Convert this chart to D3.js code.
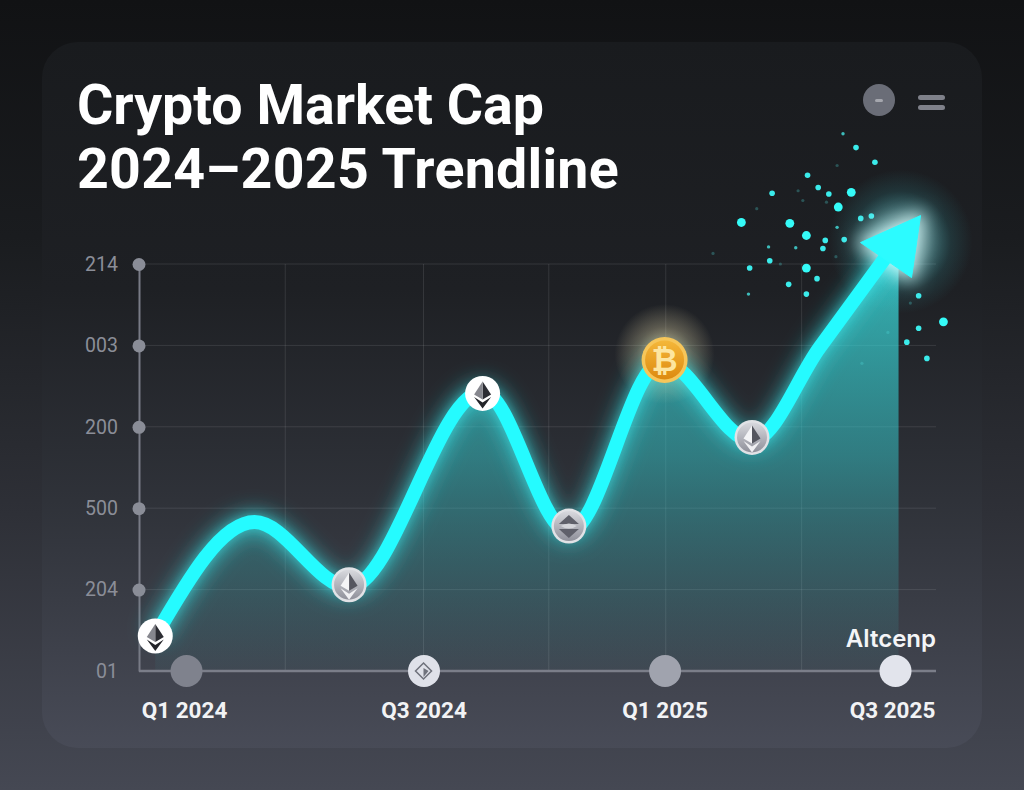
<!DOCTYPE html>
<html>
<head>
<meta charset="utf-8">
<script src="https://cdn.jsdelivr.net/npm/d3@7"></script>
<style>
html, body { margin: 0; padding: 0; background: #141517; overflow: hidden; }
</style>
</head>
<body>
<svg id="chart" width="1024" height="790"></svg>
<script>
// values: x in quarters after Q1 2024, y in axis steps
var yTickLabels = ["01", "204", "500", "200", "003", "214"];
var yTickValues = [0, 1, 2, 3, 4, 5];
var xTickLabels = ["Q1 2024", "Q3 2024", "Q1 2025", "Q3 2025"];
var xTickValues = [0, 2.01, 4.05, 6];
var xGridValues = [0.84, 2.01, 3.07, 4.06, 5.21];

var lineQ = [-0.26, 0.58, 1.38, 2.51, 3.24, 4.03, 4.79, 5.36, 6.03];
var lineV = [0.43, 1.83, 1.03, 3.43, 1.71, 3.80, 2.83, 3.97, 5.30];

var markerQ = [-0.26, 1.38, 2.51, 3.24, 4.05, 4.79];
var markerV = [0.43, 1.06, 3.41, 1.78, 3.82, 2.87];
var markerKind = ["light", "grey", "light", "ring", "btc", "grey"];

var sparkBigQ = [5.63, 5.52, 4.70, 5.11, 5.25, 5.25, 6.41];
var sparkBigV = [5.88, 5.70, 5.51, 5.50, 5.35, 4.95, 4.29];
var sparkMidQ = [5.67, 5.83, 5.26, 5.35, 4.96, 5.44, 5.71, 5.80, 5.41, 5.57, 5.39, 4.94, 4.77, 5.34, 5.10, 5.25, 6.20, 6.20, 6.10, 6.27];
var sparkMidV = [6.43, 6.25, 6.09, 5.94, 5.87, 5.86, 5.56, 5.59, 5.29, 5.30, 5.19, 5.04, 4.95, 4.82, 4.75, 4.63, 4.61, 4.21, 4.04, 3.84];
var sparkSmallQ = [5.56, 5.16, 4.93, 4.76, 5.51];
var sparkSmallV = [6.60, 5.20, 5.21, 4.63, 5.45];
var sparkFaintQ = [5.51, 5.18, 5.22, 5.42, 5.50, 4.46, 5.03, 4.83, 5.94, 5.72, 6.13];
var sparkFaintV = [6.21, 5.90, 5.78, 5.76, 5.09, 5.13, 5.00, 5.68, 4.16, 3.78, 4.52];

var x = d3.scaleLinear().domain([0, 6]).range([186, 895]);
var y = d3.scaleLinear().domain([0, 5]).range([671, 264]);

var svg = d3.select("#chart").style("font-family", "Roboto, sans-serif");
var defs = svg.append("defs");

function gradient(id, x2, y2, stops) {
    var g = defs.append("linearGradient").attr("id", id)
        .attr("x1", 0).attr("y1", 0).attr("x2", x2).attr("y2", y2);
    stops.forEach(function(s) {
        g.append("stop").attr("offset", s[0]).attr("stop-color", s[1]).attr("stop-opacity", s[2]);
    });
}
function radial(id, stops) {
    var g = defs.append("radialGradient").attr("id", id);
    stops.forEach(function(s) {
        g.append("stop").attr("offset", s[0]).attr("stop-color", s[1]).attr("stop-opacity", s[2]);
    });
}
function blur(id, dev) {
    defs.append("filter").attr("id", id)
        .attr("filterUnits", "userSpaceOnUse")
        .attr("x", -1024).attr("y", -790).attr("width", 2048).attr("height", 1580)
        .append("feGaussianBlur").attr("stdDeviation", dev);
}

gradient("bgGrad", 0, 1, [[0, "#111214", 1], [0.3, "#1a1c1f", 1], [0.65, "#2e3037", 1], [1, "#454853", 1]]);
gradient("cardGrad", 0, 1, [[0, "#191b1e", 1], [0.35, "#1e2024", 1], [0.65, "#2f3239", 1], [1, "#484b57", 1]]);
gradient("areaGrad", 0, 1, [[0, "#3ff0f0", 0.75], [0.5, "#36d0d4", 0.48], [1, "#36b0b4", 0.05]]);
gradient("silver", 0, 1, [[0, "#d8d9de", 1], [1, "#8f909a", 1]]);
gradient("gold", 0, 1, [[0, "#f4b73a", 1], [1, "#dd8a10", 1]]);
radial("arrowGlow", [[0, "#e8ffff", 0.7], [0.4, "#8ff4f8", 0.4], [0.7, "#3fd8e0", 0.12], [1, "#3fd8e0", 0]]);
radial("btcGlow", [[0, "#ffeeb8", 0.8], [0.55, "#e8dcae", 0.3], [1, "#e8dcae", 0]]);
blur("glowWide", 10);
blur("glowTight", 4);
blur("arrowBlur", 9);
blur("sparkBlur", 0.7);

svg.append("rect").attr("width", 1024).attr("height", 790).attr("fill", "url(#bgGrad)");
svg.append("rect").attr("x", 42).attr("y", 42).attr("width", 940).attr("height", 706).attr("rx", 36)
    .attr("fill", "url(#cardGrad)");

// title and top right buttons
var title = svg.append("g").attr("fill", "#ffffff").attr("font-weight", 700).attr("font-size", 55.5);
title.append("text").attr("x", 77).attr("y", 124).text("Crypto Market Cap");
title.append("text").attr("x", 77).attr("y", 188).attr("letter-spacing", 0.25).text("2024–2025 Trendline");

svg.append("circle").attr("cx", 879).attr("cy", 100).attr("r", 16).attr("fill", "#6a6d77");
svg.append("rect").attr("x", 875).attr("y", 99).attr("width", 8).attr("height", 3).attr("rx", 1.5).attr("fill", "#a5a7ae");
[95, 105].forEach(function(t) {
    svg.append("rect").attr("x", 918).attr("y", t).attr("width", 27).attr("height", 5).attr("rx", 2.5).attr("fill", "#7f818a");
});

// grid
var grid = svg.append("g").attr("stroke", "#ffffff").attr("stroke-opacity", 0.1).attr("stroke-width", 1);
grid.selectAll("line.h").data(yTickValues.slice(1)).enter().append("line").attr("class", "h")
    .attr("x1", 139).attr("x2", 936)
    .attr("y1", function(d) {return y(d);})
    .attr("y2", function(d) {return y(d);});
grid.selectAll("line.v").data(xGridValues).enter().append("line").attr("class", "v")
    .attr("x1", function(d) {return x(d);})
    .attr("x2", function(d) {return x(d);})
    .attr("y1", y(5)).attr("y2", y(0));

// area under the trend
var points = lineQ.map(function(q, i) {return {q: q, v: lineV[i]};});
var area = d3.area().curve(d3.curveMonotoneX)
    .x(function(d) {return x(d.q);})
    .y0(y(0))
    .y1(function(d) {return y(d.v);});
var line = d3.line().curve(d3.curveMonotoneX)
    .x(function(d) {return x(d.q);})
    .y(function(d) {return y(d.v);});

svg.append("path").datum(points).attr("d", area).attr("fill", "url(#areaGrad)");

// axes
var yAxis = d3.axisLeft(y).tickValues(yTickValues)
    .tickFormat(function(d, i) {return yTickLabels[i];})
    .tickSize(0).tickPadding(21);
var yG = svg.append("g").attr("transform", "translate(139,0)").call(yAxis);
yG.select(".domain").attr("stroke", "#787b86").attr("stroke-width", 2);
yG.selectAll("text").attr("fill", "#8b8e98").style("font-size", "19.5px").style("font-family", "Roboto, sans-serif");
yG.selectAll(".tick").filter(function(d) {return d > 0;}).append("circle").attr("r", 6.5).attr("fill", "#8a8d97");

var xAxis = d3.axisBottom(x).tickValues(xTickValues)
    .tickFormat(function(d, i) {return xTickLabels[i];})
    .tickSize(0).tickPadding(31);
var xG = svg.append("g").attr("transform", "translate(0,671)").call(xAxis);
xG.select(".domain").remove();
xG.insert("line", ":first-child").attr("x1", 139).attr("x2", 936).attr("stroke", "#7b7e89").attr("stroke-width", 2.5);
var xDotColors = ["#7f828d", "#dfe1e9", "#a0a3ae", "#e2e4ec"];
var xLabelShift = [-2, 0, 0, -3];
xG.selectAll(".tick").insert("circle", ":first-child").attr("r", 16)
    .attr("fill", function(d, i) {return xDotColors[i];});
xG.selectAll("text").attr("fill", "#f2f3f5")
    .attr("dx", function(d, i) {return xLabelShift[i];})
    .style("font-size", "22.5px").style("font-weight", 700)
    .style("font-family", "Roboto, sans-serif");

// small diamond on the Q3 2024 dot
var q3 = svg.append("g").attr("transform", "translate(" + x(xTickValues[1]) + ",671)");
q3.append("path").attr("d", "M0,-8L8,0L0,8L-8,0Z").attr("fill", "none").attr("stroke", "#6f727c").attr("stroke-width", 1.5);
q3.append("path").attr("d", "M0,-3L5,0L0,6Z").attr("fill", "#70737d");

svg.append("text").attr("x", 936).attr("y", 647).attr("text-anchor", "end")
    .attr("fill", "#f4f5f7").attr("font-size", 24).attr("font-weight", 600)
    .style("font-family", "Inter, sans-serif").text("Altcenp");

// particles
function sparks(qs, vs, r, op, col) {
    svg.append("g").selectAll("circle").data(qs).enter().append("circle")
        .attr("cx", function(d) {return x(d);})
        .attr("cy", function(d, i) {return y(vs[i]);})
        .attr("r", r).attr("fill", col).attr("fill-opacity", op).attr("filter", "url(#sparkBlur)");
}
sparks(sparkFaintQ, sparkFaintV, 1.6, 0.28, "#4fe0e0");
sparks(sparkSmallQ, sparkSmallV, 1.7, 0.75, "#48f0ee");
sparks(sparkMidQ, sparkMidV, 2.8, 0.95, "#3df7f5");
sparks(sparkBigQ, sparkBigV, 4.4, 1, "#35fbf8");

// glows sit behind the line
var endX = x(lineQ[lineQ.length - 1]);
var endY = y(lineV[lineV.length - 1]);
var arrowShape = "M22,-24L13,38L-16,18L-38,3Z";
var endAt = "translate(" + endX + "," + endY + ")";

svg.append("circle").attr("cx", endX + 2).attr("cy", endY + 2).attr("r", 72).attr("fill", "url(#arrowGlow)");
svg.append("circle").attr("cx", x(markerQ[4])).attr("cy", y(markerV[4]) - 6).attr("r", 50).attr("fill", "url(#btcGlow)");

svg.append("path").datum(points).attr("d", line).attr("fill", "none").attr("stroke", "#35e6ea")
    .attr("stroke-width", 22).attr("stroke-opacity", 0.55).attr("filter", "url(#glowWide)");
svg.append("path").datum(points).attr("d", line).attr("fill", "none").attr("stroke", "#45eef0")
    .attr("stroke-width", 15).attr("stroke-opacity", 0.35).attr("filter", "url(#glowTight)");
svg.append("path").attr("d", arrowShape).attr("transform", endAt)
    .attr("fill", "#d8ffff").attr("fill-opacity", 0.85).attr("stroke", "#d8ffff").attr("stroke-width", 6).attr("filter", "url(#arrowBlur)");

// trend line, arrow head at its last point
svg.append("path").datum(points).attr("d", line).attr("fill", "none").attr("stroke", "#25fbff")
    .attr("stroke-width", 14).attr("stroke-linejoin", "round");
svg.append("path").attr("d", arrowShape).attr("transform", endAt)
    .attr("fill", "#2cfbff").attr("stroke", "#2cfbff").attr("stroke-width", 1).attr("stroke-linejoin", "round");

// coin markers
var markers = svg.append("g").selectAll("g").data(markerKind).enter().append("g")
    .attr("transform", function(d, i) {return "translate(" + x(markerQ[i]) + "," + y(markerV[i]) + ")";});

markers.append("circle").attr("r", function(d) {return d == "btc" ? 23 : 17.5;})
    .attr("fill", function(d) {
        if (d == "btc") return "#f6c65a";
        return d == "light" ? "#ffffff" : "#e1e2e6";
    });
markers.filter(function(d) {return d == "grey" || d == "ring";}).append("circle").attr("r", 15)
    .attr("fill", "url(#silver)");
markers.filter(function(d) {return d == "btc";}).append("circle").attr("r", 19.5).attr("fill", "url(#gold)");
markers.filter(function(d) {return d == "btc";}).append("text")
    .attr("text-anchor", "middle").attr("y", 11).attr("font-size", 32).attr("font-weight", 700)
    .style("font-family", "'DejaVu Sans', sans-serif").attr("fill", "#fde6a0").text("₿");

var eth = markers.filter(function(d) {return d == "light" || d == "grey";});
eth.append("path").attr("d", "M0,-12L8.5,1L0,6Z").attr("fill", function(d) {return d == "light" ? "#2c2d33" : "#55565f";});
eth.append("path").attr("d", "M0,-12L-8.5,1L0,6Z").attr("fill", function(d) {return d == "light" ? "#86878e" : "#f4f4f6";});
eth.append("path").attr("d", "M-8.5,3.5L0,9L8.5,3.5L0,15Z").attr("fill", function(d) {return d == "light" ? "#232429" : "#f0f0f3";});

var ring = markers.filter(function(d) {return d == "ring";});
ring.append("path").attr("d", "M0,-11L10,-2L-10,-2Z").attr("fill", "#5f606a");
ring.append("path").attr("d", "M-10,3L10,3L0,12Z").attr("fill", "#5f606a");
ring.append("path").attr("d", "M-8,0Q0,-5,8,0Q0,5,-8,0Z").attr("fill", "#d4d5da");
</script>
</body>
</html>
